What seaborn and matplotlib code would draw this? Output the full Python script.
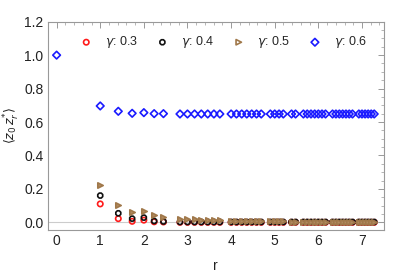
import numpy as np
import pandas as pd
import matplotlib
matplotlib.use("Agg")
import matplotlib.pyplot as plt
import seaborn as sns
from matplotlib.ticker import MultipleLocator

# lattice distances r (sqrt of sums of three squares)
r_vals = [0.0, 1.0, 1.414, 1.732, 2.0, 2.236, 2.449, 2.828, 3.0, 3.162, 3.317,
          3.464, 3.606, 3.742, 4.0, 4.123, 4.243, 4.359, 4.472, 4.583, 4.690,
          4.899, 5.0, 5.099, 5.196, 5.385, 5.477, 5.657, 5.745, 5.831, 5.916,
          6.0, 6.083, 6.164, 6.325, 6.403, 6.481, 6.557, 6.633, 6.708, 6.782,
          6.928, 7.0, 7.071, 7.141, 7.211, 7.280]

n_tail = len(r_vals) - 7  # points from r=2.828 on

g06 = [1.0, 0.696, 0.664, 0.652, 0.656, 0.650, 0.650] + [0.648] * n_tail
g05 = [0.224, 0.102, 0.062, 0.066, 0.042, 0.034] + \
      [0.022, 0.020, 0.018, 0.016, 0.014, 0.013, 0.012,
       0.008, 0.008, 0.007, 0.007, 0.006, 0.006, 0.006,
       0.005, 0.005, 0.005, 0.005, 0.004, 0.004, 0.004,
       0.004, 0.004, 0.004, 0.004, 0.004, 0.003, 0.003,
       0.003, 0.003, 0.003, 0.003, 0.003, 0.003, 0.003,
       0.003, 0.003, 0.003, 0.003, 0.003]
g04 = [0.160, 0.054, 0.022, 0.028, 0.008, 0.005] + [0.002] * n_tail
g03 = [0.110, 0.022, 0.006, 0.013, 0.003, 0.002] + [0.0] * n_tail

gammas = ["0.3", "0.4", "0.5", "0.6"]

sns.set_style("white")
plt.rcParams["font.family"] = ["Liberation Sans", "DejaVu Sans"]
plt.rcParams["mathtext.fontset"] = "dejavusans"

fig = plt.figure(figsize=(4.07, 2.73), dpi=100)
ax = fig.add_axes([0.117, 0.1575, 0.826, 0.763])

ax.axhline(0, color="#cccccc", lw=0.8, zorder=0)

styles = [
    (g03, r_vals[1:], "o", "#ff1a1a", "none"),
    (g04, r_vals[1:], "8", "#111111", "none"),
    (g05, r_vals[1:], ">", "#a0784a", "#b08a60"),
    (g06, r_vals, "D", "#1a1aff", "none"),
]
for (ys, xs, m, ec, fc), g in zip(styles, gammas):
    df = pd.DataFrame({"r": xs, "v": ys})
    sns.scatterplot(data=df, x="r", y="v", ax=ax, marker=m, s=15,
                    facecolors=fc, edgecolor=ec, linewidth=1.2,
                    label=r"$\gamma$: " + g, zorder=3)

ax.set_xlim(-0.206, 7.5)
ax.set_ylim(-0.046, 1.2)
ax.xaxis.set_major_locator(MultipleLocator(1))
ax.xaxis.set_minor_locator(MultipleLocator(0.2))
ax.yaxis.set_minor_locator(MultipleLocator(0.05))
ax.set_yticks(np.arange(0, 1.21, 0.2))
ax.set_yticklabels([f"{v:.1f}" for v in np.arange(0, 1.21, 0.2)])
ax.tick_params(which="both", direction="in", top=True, right=True,
               color="#999999", labelsize=10, labelcolor="#222222")
ax.tick_params(which="major", length=4, width=0.7, pad=3)
ax.tick_params(which="minor", length=2, width=0.5)
for sp in ax.spines.values():
    sp.set_color("#999999")
    sp.set_linewidth(0.8)

ax.set_xlabel("r", fontsize=10, color="#222222", labelpad=8)
ax.set_ylabel(r"$\langle z_0\, z_r^{*}\rangle$", fontsize=9, color="#222222",
              va="center")
ax.yaxis.set_label_coords(-0.106, 0.5)

leg = ax.legend(loc="center left", bbox_to_anchor=(80 / 407, 1 - 42.5 / 273),
                bbox_transform=fig.transFigure, ncol=4, frameon=False,
                fontsize=9, handletextpad=1.0, columnspacing=1.44,
                handlelength=1.0, borderpad=0, borderaxespad=0)
# legend triangle is drawn open in the original
leg.legend_handles[2].set_facecolor("none")

fig.savefig("out.png", dpi=100)
